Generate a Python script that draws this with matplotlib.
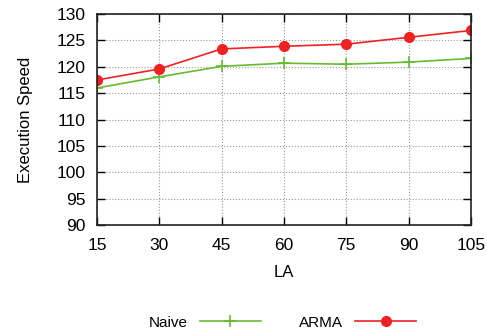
import matplotlib.pyplot as plt

la = [15, 30, 45, 60, 75, 90, 105]
naive = [116.0, 118.1, 120.1, 120.7, 120.5, 120.9, 121.6]
arma = [117.5, 119.6, 123.4, 123.9, 124.3, 125.6, 126.9]

plt.rcParams['font.family'] = ['Liberation Sans', 'DejaVu Sans']

fig = plt.figure(figsize=(4.87, 3.36), dpi=100)
ax = fig.add_axes([0.199, 0.330, 0.768, 0.628])

ax.plot(la, naive, color='#66bb33', linewidth=1.2, marker='+', markersize=8,
        markeredgewidth=1.2, label='Naive')
ax.plot(la, arma, color='#ee2222', linewidth=1.2, marker='o', markersize=7,
        label='ARMA')

ax.set_xlim(15, 105)
ax.set_ylim(90, 130)
ax.set_xticks(la)
ax.set_yticks(range(90, 131, 5))
ax.tick_params(direction='in', top=True, right=True, length=6, width=1,
               labelsize=12.5)
ax.tick_params(axis='x', pad=9)
ax.tick_params(axis='y', pad=8)
for s in ax.spines.values():
    s.set_linewidth(1.2)
    s.set_color('#222222')
ax.grid(True, linestyle=':', color='#999999', linewidth=0.8)

ax.set_xlabel('LA', fontsize=12, labelpad=9)
ax.set_ylabel('Execution Speed', fontsize=12, labelpad=17)

fig.legend(loc='center', bbox_to_anchor=(0.58, 0.04), ncol=2, frameon=False,
           markerfirst=False, fontsize=11, handlelength=4, columnspacing=2.5)

fig.savefig('out.png', dpi=100)
